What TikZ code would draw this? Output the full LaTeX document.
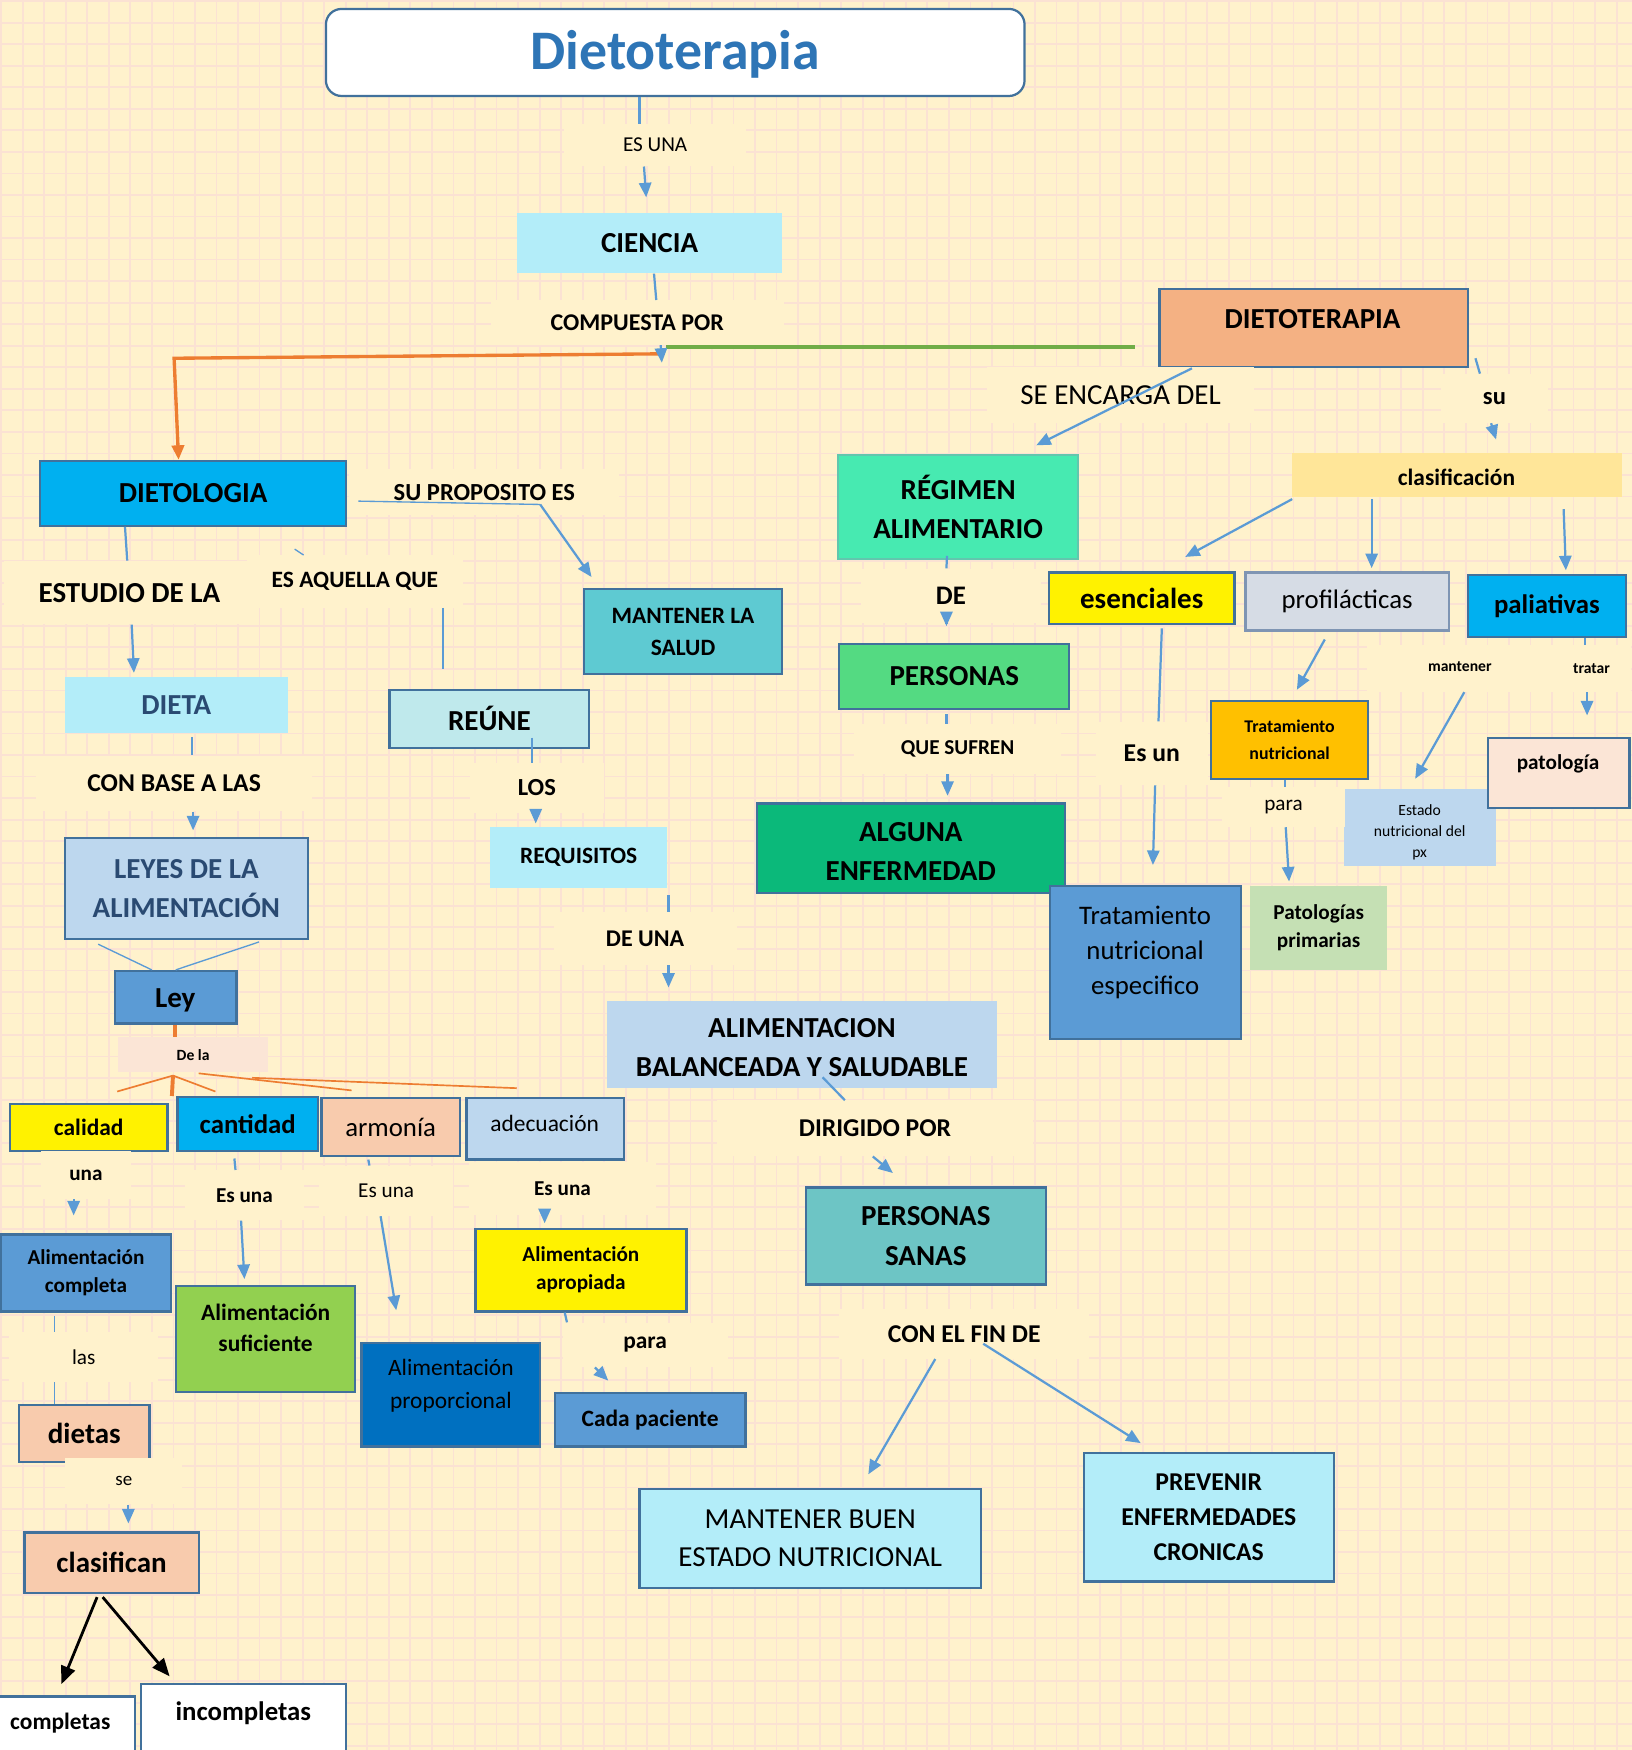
\documentclass[tikz,border=0pt]{standalone}
\usepackage{fontspec}
\setmainfont{Carlito}
\usetikzlibrary{arrows.meta}
\definecolor{bgc}{HTML}{FFF2CC}
\definecolor{gridc}{HTML}{FBE2D3}
\definecolor{bord}{HTML}{41719C}
\definecolor{conc}{HTML}{5B9BD5}
\definecolor{orng}{HTML}{ED7D31}
\definecolor{grn}{HTML}{70AD47}
\definecolor{ttl}{HTML}{2E75B6}
\definecolor{salmon}{HTML}{F4B183}
\definecolor{regf}{HTML}{47EAB1}
\definecolor{regb}{HTML}{62C6AE}
\definecolor{persf}{HTML}{54DA82}
\definecolor{algf}{HTML}{0BB97A}
\definecolor{clasf}{HTML}{FFE699}
\definecolor{proff}{HTML}{D6DCE5}
\definecolor{profb}{HTML}{7F95B3}
\definecolor{cyanb}{HTML}{00B0F0}
\definecolor{tnf}{HTML}{FFC000}
\definecolor{ppf}{HTML}{C5E0B4}
\definecolor{lblue}{HTML}{BDD7EE}
\definecolor{pinkl}{HTML}{FBE5D6}
\definecolor{mblue}{HTML}{5B9BD5}
\definecolor{mlsf}{HTML}{5ECAD2}
\definecolor{cyanl}{HTML}{B3EDF9}
\definecolor{reunef}{HTML}{BFE9EC}
\definecolor{psf}{HTML}{6DC5C5}
\definecolor{dblue}{HTML}{2A4A72}
\definecolor{peach}{HTML}{F8CBAD}
\definecolor{lgreen}{HTML}{92D050}
\definecolor{dblue2}{HTML}{0070C0}
\newcommand{\myfs}[2]{\fontsize{#1pt}{#2pt}\selectfont}
\tikzset{
  box/.style={draw=bord, line width=2, inner sep=0, align=center},
  nbox/.style={inner sep=0, align=center},
  lbl/.style={fill=bgc, inner sep=0, align=center},
  txt/.style={inner sep=0, align=center},
  con/.style={draw=conc, line width=2},
  thinc/.style={draw=conc, line width=1.2},
  arr/.style={con, -{Triangle[length=13pt,width=11pt]}},
  blk/.style={draw=black, line width=2.5, -{Triangle[length=16pt,width=13pt]}},
  oarr/.style={draw=orng, line width=3, -{Triangle[length=13pt,width=11pt]}},
}
\begin{document}
\begin{tikzpicture}[x=1pt,y=-1pt]
\useasboundingbox (0,0) rectangle (1462,1568);
\fill[bgc] (0,0) rectangle (1462,1568);
\foreach \i in {0,...,76} \draw[gridc,line width=1.6] ({1+\i*19.3},0) -- ({1+\i*19.3},1568);
\foreach \j in {0,...,81} \draw[gridc,line width=1.6] (0,{1+\j*19.3}) -- (1462,{1+\j*19.3});

% ---------- boxes ----------
\node[box, rounded corners=14, fill=white, minimum width=626, minimum height=78] (title) at (605,47) {};
\node[txt, text=ttl, font=\bfseries\myfs{50}{58}] (title-t) at (605,49) {Dietoterapia};
\node[nbox, fill=cyanl, minimum width=238, minimum height=54, font=\bfseries\myfs{26}{32}] (ciencia) at (582,218) {CIENCIA};
\node[box, fill=salmon, minimum width=276, minimum height=70] (dietoterapia) at (1177,294) {};
\node[txt, font=\bfseries\myfs{26}{32}] (dietoterapia-t) at (1176,286) {DIETOTERAPIA};
\node[box, draw=regb, fill=regf, minimum width=215, minimum height=93, font=\bfseries\myfs{26}{35}] (regimen) at (858.5,454.5) {RÉGIMEN\\ALIMENTARIO};
\node[box, fill=persf, minimum width=206, minimum height=58, font=\bfseries\myfs{26}{32}] (personas) at (855,606) {PERSONAS};
\node[box, fill=algf, minimum width=276, minimum height=80] (alguna) at (816,760) {};
\node[txt, font=\bfseries\myfs{26}{35}] (alguna-t) at (816,763) {ALGUNA\\ENFERMEDAD};
\node[nbox, fill=clasf, minimum width=295, minimum height=39] (clasif) at (1305.5,425.5) {};
\node[txt, font=\bfseries\myfs{21}{26}] (clasif-t) at (1305,428) {clasificación};
\node[box, fill=yellow, minimum width=166, minimum height=46, font=\bfseries\myfs{26}{32}] (esenciales) at (1023,536) {esenciales};
\node[box, draw=profb, fill=proff, minimum width=182, minimum height=52, font=\myfs{24}{30}] (profil) at (1207,539) {profilácticas};
\node[box, fill=cyanb, minimum width=142, minimum height=56, font=\bfseries\myfs{24}{30}] (paliativas) at (1386,543) {paliativas};
\node[box, fill=tnf, minimum width=141, minimum height=70, font=\bfseries\myfs{16}{24}] (tn) at (1155.5,663) {Tratamiento\\nutricional};
\node[nbox, fill=ppf, minimum width=123, minimum height=75, font=\bfseries\myfs{19}{25}] (patprim) at (1181.5,831.5) {Patologías\\primarias};
\node[nbox, fill=lblue, minimum width=136, minimum height=69] (estado) at (1272,741.5) {};
\node[txt, font=\myfs{14}{19}] (estado-t) at (1272,746) {Estado\\nutricional del\\px};
\node[box, fill=pinkl, minimum width=127, minimum height=63] (patologia) at (1396.5,692.5) {};
\node[txt, font=\bfseries\myfs{19}{24}] (patologia-t) at (1396,684) {patología};
\node[box, fill=mblue, minimum width=171, minimum height=137] (trate) at (1026.5,862.5) {};
\node[txt, font=\myfs{24}{31.5}] (trate-t) at (1026,853.5) {Tratamiento\\nutricional\\especifico};

\node[box, fill=cyanb, minimum width=274, minimum height=58, font=\bfseries\myfs{26}{32}] (dietologia) at (173,442) {DIETOLOGIA};
\node[box, fill=mlsf, minimum width=178, minimum height=76, font=\bfseries\myfs{21}{29}] (mls) at (612,566) {MANTENER LA\\SALUD};
\node[nbox, fill=cyanl, minimum width=200, minimum height=50, text=dblue, font=\bfseries\myfs{26}{32}] (dieta) at (158,632) {DIETA};
\node[box, fill=lblue, minimum width=218, minimum height=90, text=dblue, font=\bfseries\myfs{26}{35}] (leyes) at (167,796) {LEYES DE LA\\ALIMENTACIÓN};
\node[box, fill=reunef, minimum width=179, minimum height=52, font=\bfseries\myfs{26}{32}] (reune) at (438.5,644) {REÚNE};
\node[nbox, fill=cyanl, minimum width=159, minimum height=55, font=\bfseries\myfs{21}{26}] (requisitos) at (518.5,768.5) {REQUISITOS};
\node[nbox, fill=lblue, minimum width=349, minimum height=78] (alb) at (718.5,936) {};
\node[txt, font=\bfseries\myfs{26}{35}] (alb-t) at (718.5,939) {ALIMENTACION\\BALANCEADA Y SALUDABLE};
\node[box, fill=psf, minimum width=215, minimum height=87, font=\bfseries\myfs{26}{35}] (psanas) at (829.5,1107.5) {PERSONAS\\SANAS};
\node[box, fill=cyanl, minimum width=306, minimum height=89, font=\myfs{26}{34}] (mbuen) at (726,1378.5) {MANTENER BUEN\\ESTADO NUTRICIONAL};
\node[box, fill=cyanl, minimum width=224, minimum height=115, font=\bfseries\myfs{23}{31.5}] (prevenir) at (1083,1359.5) {PREVENIR\\ENFERMEDADES\\CRONICAS};

\node[box, fill=mblue, minimum width=109, minimum height=47] (ley) at (157.5,893.5) {};
\node[txt, font=\bfseries\myfs{26}{32}] (ley-t) at (157,896) {Ley};
\node[box, fill=yellow, minimum width=141, minimum height=42, font=\bfseries\myfs{21}{26}] (calidad) at (79.5,1010) {calidad};
\node[box, fill=cyanb, minimum width=126, minimum height=48, font=\bfseries\myfs{24}{30}] (cantidad) at (222,1007) {cantidad};
\node[box, fill=peach, minimum width=124, minimum height=52, font=\myfs{24}{30}] (armonia) at (350,1010) {armonía};
\node[box, fill=lblue, minimum width=141, minimum height=55] (adecuacion) at (488.5,1011.5) {};
\node[txt, font=\myfs{21}{26}] (adecuacion-t) at (488,1007) {adecuación};
\node[box, fill=mblue, minimum width=152, minimum height=69, font=\bfseries\myfs{19}{25}] (acompleta) at (77,1140.5) {Alimentación\\completa};
\node[box, fill=lgreen, minimum width=160, minimum height=95] (asuf) at (238,1199.5) {};
\node[txt, font=\bfseries\myfs{21}{28}] (asuf-t) at (238,1190) {Alimentación\\suficiente};
\node[box, fill=dblue2, minimum width=160, minimum height=93] (aprop) at (404,1249.5) {};
\node[txt, text=black, font=\myfs{21}{29}] (aprop-t) at (404,1241.5) {Alimentación\\proporcional};
\node[box, fill=yellow, minimum width=189, minimum height=74, font=\bfseries\myfs{19}{25}] (apropiada) at (520.5,1138) {Alimentación\\apropiada};
\node[box, fill=mblue, minimum width=171, minimum height=48, font=\bfseries\myfs{21}{26}] (cadap) at (582.5,1272) {Cada paciente};
\node[box, fill=peach, minimum width=117, minimum height=51, font=\bfseries\myfs{26}{32}] (dietas) at (75.5,1284.5) {dietas};
\node[box, fill=peach, minimum width=156, minimum height=54, font=\bfseries\myfs{26}{32}] (clasifican) at (100,1400) {clasifican};
\node[box, fill=white, minimum width=126, minimum height=60] (completas) at (58,1550) {};
\node[txt, font=\bfseries\myfs{21}{26}] (completas-t) at (54,1544) {completas};
\node[box, fill=white, minimum width=184, minimum height=70] (incompletas) at (218,1544) {};
\node[txt, font=\bfseries\myfs{24}{30}] (incompletas-t) at (218,1535) {incompletas};

% ---------- labels ----------
\node[lbl, minimum width=163, minimum height=38, font=\myfs{19}{24}] (esuna) at (587,130) {ES UNA};
\node[lbl, minimum width=263, minimum height=40, font=\bfseries\myfs{21.5}{26}] (compuesta) at (571,289) {COMPUESTA POR};
\node[lbl, minimum width=240, minimum height=50, font=\myfs{26}{32}] (seencarga) at (1004,354) {SE ENCARGA DEL};
\node[lbl, minimum width=96, minimum height=44, font=\bfseries\myfs{22}{26}] (su) at (1339,357) {su};
\node[lbl, minimum width=161, minimum height=49, font=\bfseries\myfs{24}{30}] (de) at (852,534) {DE};
\node[lbl, minimum width=185, minimum height=45, font=\bfseries\myfs{19}{24}] (quesufren) at (858,671) {QUE SUFREN};
\node[lbl, minimum width=100, minimum height=57, font=\bfseries\myfs{23}{28}] (esun) at (1032,675) {Es un};
\node[lbl, minimum width=110, minimum height=36, font=\myfs{19}{24}] (para1) at (1150,723) {para};
\node[lbl, minimum width=237, minimum height=42] (mtbg) at (1343,599) {};
\node[txt, font=\bfseries\myfs{14}{18}] (mantener) at (1308,597) {mantener};
\node[txt, font=\bfseries\myfs{14}{18}] (tratar) at (1426,599) {tratar};
\node[lbl, minimum width=242, minimum height=41, font=\bfseries\myfs{22}{26}] (supro) at (434,441) {SU PROPOSITO ES};
\node[lbl, minimum width=225, minimum height=57, font=\bfseries\myfs{26}{30}] (estudio) at (116,531) {ESTUDIO DE LA};
\node[lbl, minimum width=193, minimum height=47, font=\bfseries\myfs{21}{26}] (esaquella) at (318,521) {ES AQUELLA QUE};
\node[lbl, minimum width=247, minimum height=50, font=\bfseries\myfs{23}{28}] (conbase) at (156,702) {CON BASE A LAS};
\node[lbl, minimum width=120, minimum height=44, font=\bfseries\myfs{22}{26}] (los) at (481,706) {LOS};
\node[lbl, minimum width=164, minimum height=47, font=\bfseries\myfs{21.5}{26}] (deuna) at (578,841) {DE UNA};
\node[lbl, minimum width=284, minimum height=50, font=\bfseries\myfs{23}{28}] (dirigido) at (784,1011) {DIRIGIDO POR};
\node[lbl, minimum width=224, minimum height=45, font=\bfseries\myfs{23}{28}] (conelfin) at (864,1195) {CON EL FIN DE};
\node[lbl, fill=pinkl, minimum width=134, minimum height=31, font=\bfseries\myfs{14}{18}] (dela) at (173,945) {De la};
\node[lbl, minimum width=80, minimum height=43, font=\bfseries\myfs{19}{24}] (una) at (77,1053) {una};
\node[lbl, minimum width=106, minimum height=45, font=\bfseries\myfs{19}{24}] (esuna1) at (219,1071) {Es una};
\node[lbl, minimum width=120, minimum height=45, font=\myfs{19}{24}] (esuna2) at (346,1067) {Es una};
\node[lbl, minimum width=168, minimum height=48, font=\bfseries\myfs{19}{24}] (esuna3) at (504,1065) {Es una};
\node[lbl, minimum width=134, minimum height=45, font=\myfs{19}{24}] (las) at (75,1216) {las};
\node[lbl, minimum width=105, minimum height=42, font=\myfs{17}{22}] (se) at (111,1327) {se};
\node[lbl, minimum width=148, minimum height=40, font=\bfseries\myfs{21}{26}] (para2) at (578,1205) {para};

% ---------- connectors ----------
\draw[con] ([xshift=-32]title.south) -- ([xshift=-14]esuna.north);
\draw[arr] ([xshift=-10]esuna.south) -- ([xshift=-3,yshift=14]ciencia.north);

\coordinate (junc) at (593,325);
\coordinate (ostart) at (595,317);
\coordinate (ocorner) at (156,321);
\coordinate (gstart) at (597,311);
\draw[con] ([xshift=4]ciencia.south) -- ([xshift=17]compuesta.north);
\draw[oarr] (ostart) -- (ocorner) -- ([xshift=-13]dietologia.north);
\draw[grn, line width=3.5] (gstart) -- ([xshift=-21,yshift=-17]dietoterapia.west);
\draw[arr] ([xshift=21]compuesta.south) -- (junc);

\draw[arr] ([xshift=-109]dietoterapia.south) -- ([xshift=70,yshift=8]regimen.north);
\draw[con] ([xshift=6,yshift=-27]dietoterapia.east) -- ([xshift=-13]su.north);
\draw[arr] ([xshift=-3]su.south) -- ([xshift=35,yshift=12]clasif.north);

\draw[arr] ([yshift=-2]clasif.south west) -- ([xshift=39,yshift=13]esenciales.north);
\draw[arr] ([xshift=-76.5,yshift=-2]clasif.south) -- ([xshift=22,yshift=3]profil.north);
\draw[arr] ([xshift=95.5,yshift=-11]clasif.south) -- ([xshift=17,yshift=3]paliativas.north);

\draw[con] ([xshift=-10,yshift=4]regimen.south) -- ([xshift=-4]de.north);
\draw[arr] ([xshift=-4]de.south) -- ([xshift=-7,yshift=15]personas.north);
\draw[con] ([xshift=-7,yshift=-4]personas.south) -- ([xshift=-10]quesufren.north);
\draw[arr] ([xshift=-9]quesufren.south) -- ([xshift=33,yshift=6]alguna.north);

\draw[con] ([xshift=18,yshift=-3]esenciales.south) -- ([xshift=6]esun.north);
\draw[arr] ([xshift=3]esun.south) -- ([xshift=6.5,yshift=18]trate.north);
\draw[arr] ([xshift=-20,yshift=-7]profil.south) -- ([xshift=6.5,yshift=9]tn.north);
\draw[con] ([xshift=-4.5]tn.south) -- ([xshift=1]para1.north);
\draw[arr] ([xshift=2]para1.south) -- ([xshift=-26.5,yshift=4]patprim.north);

\draw[con] ([xshift=34]paliativas.south) -- ([xshift=77]mtbg.north);
\draw[arr] ([xshift=-31]mtbg.south) -- ([xshift=-4,yshift=9]estado.north);
\draw[arr] ([xshift=79]mtbg.south) -- ([xshift=25.5,yshift=19]patologia.north);

\coordinate (spbend) at (484,452);
\draw[thinc] ([xshift=10,yshift=-7]dietologia.east) -- (spbend);
\draw[arr] (spbend) -- ([xshift=-82,yshift=10]mls.north);

\draw[con] ([xshift=-61]dietologia.south) -- ([xshift=-2]estudio.north);
\draw[arr] ([xshift=2]estudio.south) -- ([xshift=-38,yshift=4]dieta.north);
\draw[con] ([xshift=14,yshift=-3]dieta.south) -- ([xshift=16]conbase.north);
\draw[arr] ([xshift=17]conbase.south) -- ([xshift=6,yshift=6]leyes.north);

\draw[thinc] ([xshift=91,yshift=-20]dietologia.south) -- ([xshift=-46]esaquella.north);
\draw[thinc] ([xshift=79]esaquella.south) -- ([xshift=-41.5,yshift=18]reune.north);

\draw[con] ([xshift=38.5,yshift=10]reune.south) -- ([xshift=-4]los.north);
\draw[arr] ([xshift=-1]los.south) -- ([xshift=-38.5,yshift=3]requisitos.north);
\draw[con] ([xshift=80.5,yshift=-6]requisitos.south) -- ([xshift=21]deuna.north);
\draw[arr] ([xshift=21]deuna.south) -- ([xshift=-119.5,yshift=12]alb.north);

\draw[con] ([xshift=18.5,yshift=10]alb.south) -- ([xshift=-27]dirigido.north);
\draw[arr] ([xshift=-2]dirigido.south) -- ([xshift=-29.5,yshift=12]psanas.north);
\draw[arr] ([xshift=-26]conelfin.south) -- ([xshift=52,yshift=12]mbuen.north);
\draw[arr] ([xshift=17,yshift=-9]conelfin.center) -- ([xshift=-61,yshift=8]prevenir.north);

\draw[thinc] ([xshift=-79,yshift=-4]leyes.south) -- ([xshift=-21.5]ley.north);
\draw[thinc] ([xshift=65,yshift=-2]leyes.south) -- (ley.north);

\draw[orng, line width=3.5] ([xshift=-0.5]ley.south) -- ([xshift=-16]dela.north);
\draw[orng, line width=3.5] ([xshift=-18,yshift=-3]dela.south) -- ([xshift=-4]cantidad.north west);
\draw[orng, line width=1.5] ([xshift=-18,yshift=-3]dela.south) -- ([xshift=25.5,yshift=10]calidad.north);
\draw[orng, line width=1.5] ([xshift=-18,yshift=-3]dela.south) -- ([xshift=-29,yshift=4]cantidad.north);
\draw[orng, line width=1.5] ([xshift=5,yshift=-1]dela.south) -- ([xshift=-35,yshift=6]armonia.north);
\draw[orng, line width=1.5] ([xshift=53,yshift=-5]dela.south) -- ([xshift=-25.5,yshift=8]adecuacion.north);

\draw[arr] ([xshift=-11]una.south) -- ([xshift=-11,yshift=16]acompleta.north);
\draw[thinc] ([xshift=-28,yshift=-3]acompleta.south) -- ([xshift=-26]las.north);
\draw[thinc] ([xshift=-26]las.south) -- ([xshift=-26.5]dietas.north);
\draw[arr] ([xshift=4]se.south) -- ([xshift=15,yshift=7]clasifican.north);
\draw[blk] ([xshift=-13,yshift=-3]clasifican.south) -- ([xshift=-3,yshift=10]completas.north);
\draw[blk] ([xshift=-8,yshift=-3]clasifican.south) -- ([xshift=-66,yshift=6]incompletas.north);

\draw[con] ([xshift=-12,yshift=-6]cantidad.south) -- ([xshift=-8]esuna1.north);
\draw[arr] ([xshift=-3]esuna1.south) -- ([xshift=-19,yshift=5]asuf.north);
\draw[con] ([xshift=-20,yshift=-2]armonia.south) -- ([xshift=-15]esuna2.north);
\draw[arr] ([xshift=-5]esuna2.south) -- ([xshift=-49,yshift=28]aprop.north);
\draw[arr] ([xshift=-16]esuna3.south) -- ([xshift=-32.5,yshift=4]apropiada.north);
\draw[con] ([xshift=-14.5]apropiada.south) -- ([xshift=-70]para2.north);
\draw[arr] ([xshift=-45]para2.south) -- ([xshift=-37.5,yshift=10]cadap.north);
\end{tikzpicture}
\end{document}
